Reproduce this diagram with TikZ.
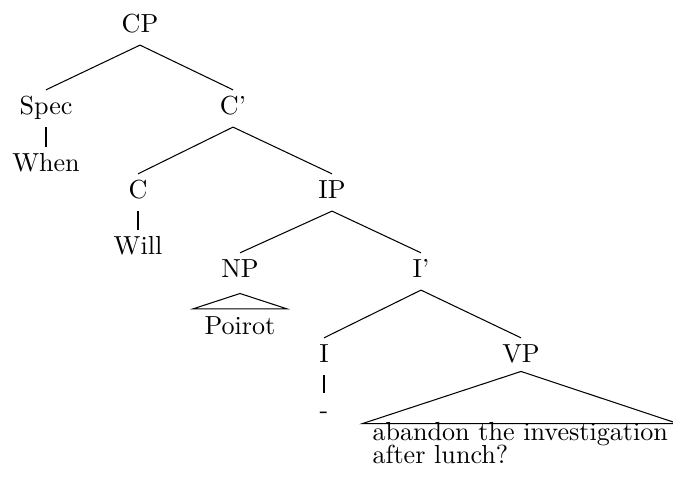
\documentclass[tikz,border=0pt]{standalone}
\begin{document}
\begin{tikzpicture}[x=0.3831pt,y=-0.3831pt,
  lbl/.style={inner xsep=0pt, inner ysep=2.5pt, text height=6.94pt, text depth=1.94pt, anchor=base},
  edge/.style={line width=0.4pt}]
\useasboundingbox (0,0) rectangle (673,487);
\clip (0,0) rectangle (673,487);
\node[lbl] (CP) at (140,33) {CP};
\node[lbl] (Spec) at (46,115) {Spec};
\node[lbl] (When) at (46,172) {When};
\node[lbl] (Cb) at (233,115) {C'};
\node[lbl] (C) at (138,199) {C};
\node[lbl] (Will) at (138,255) {Will};
\node[lbl] (IP) at (332,199) {IP};
\node[lbl] (NP) at (240,278) {NP};
\node[lbl] (Poirot) at (240,334) {Poirot};
\node[lbl] (Ib) at (421,278) {I'};
\node[lbl] (I) at (324,363) {I};
\node[lbl] (hy) at (324,418) {-};
\node[lbl] (VP) at (521,363) {VP};
\node[lbl, anchor=base west] (vptA) at (372,440) {abandon the investigation};
\node[lbl, anchor=base west] (vptB) at (372,463) {after lunch?};
\draw[edge] (CP.south) -- (Spec.north);
\draw[edge] (CP.south) -- (Cb.north);
\draw[edge] (Spec.south) -- (When.north);
\draw[edge] (Cb.south) -- (C.north);
\draw[edge] (Cb.south) -- (IP.north);
\draw[edge] (C.south) -- (Will.north);
\draw[edge] (IP.south) -- (NP.north);
\draw[edge] (IP.south) -- (Ib.north);
\draw[edge] (Ib.south) -- (I.north);
\draw[edge] (Ib.south) -- (VP.north);
\draw[edge] (I.south) -- (hy.north);
\draw[edge] ([yshift=-1.3pt]NP.south) -- ([xshift=-4.2pt]Poirot.north west) -- ([xshift=4.2pt]Poirot.north east) -- cycle;
\draw[edge] ([yshift=1.4pt]VP.south) -- ([xshift=-3.8pt,yshift=-3.4pt]vptA.north west) -- ([xshift=3.8pt,yshift=-3.4pt]vptA.north east) -- cycle;
\end{tikzpicture}
\end{document}
